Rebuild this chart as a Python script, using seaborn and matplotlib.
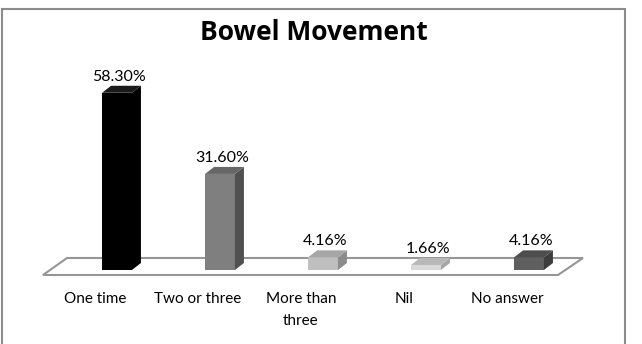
import matplotlib
matplotlib.use("Agg")
import matplotlib.pyplot as plt
import seaborn as sns
from matplotlib.patches import Polygon, Rectangle
from matplotlib.transforms import IdentityTransform, ScaledTranslation

categories = ["One time", "Two or three", "More than\nthree", "Nil", "No answer"]
values = [58.30, 31.60, 4.16, 1.66, 4.16]
value_labels = ["58.30%", "31.60%", "4.16%", "1.66%", "4.16%"]
title = "Bowel Movement"

front_colors = ["#000000", "#7f7f7f", "#bfbfbf", "#d9d9d9", "#5f5f5f"]
side_colors = ["#000000", "#505050", "#8c8c8c", "#a6a6a6", "#3c3c3c"]
top_colors = ["#1a1a1a", "#666666", "#a6a6a6", "#b8b8b8", "#4d4d4d"]

sns.set_theme(style="white")
plt.rcParams["font.family"] = ["Lato", "DejaVu Sans"]

W, H, DPI = 642, 344, 100
fig = plt.figure(figsize=(W / DPI, H / DPI), dpi=DPI)
fig.patch.set_facecolor("white")

# axes: category i centred at px 117 + 103 i, baseline at px 270 from top
ax = fig.add_axes([65.5 / W, 74 / H, 515 / W, 212.8 / H])
ax.set_facecolor("none")
ax.set_zorder(1)

# floor (drawn in pixel space behind bars)
floor_pts = [(43, H - 275), (558, H - 275), (583, H - 258), (67, H - 258)]
fig.patches.append(Polygon(floor_pts, closed=True, facecolor="white",
                           edgecolor="#969696", linewidth=1.5,
                           transform=IdentityTransform(), zorder=-1))

sns.barplot(x=categories, y=values, hue=categories, palette=front_colors,
            saturation=1, width=0.29, legend=False, ax=ax, zorder=3,
            edgecolor="none")
ax.set_xlim(-0.5, 4.5)
ax.set_ylim(0, 70)
for s in ax.spines.values():
    s.set_visible(False)
ax.set_yticks([])
ax.set_xlabel("")
ax.set_ylabel("")
ax.tick_params(axis="x", length=0, pad=16, labelsize=11, colors="#000000")
ax.set_xticks(range(len(categories)))
ax.set_xticklabels(categories, linespacing=1.75)
for lab in ax.get_xticklabels():
    lab.set_transform(lab.get_transform() + ScaledTranslation(-22 / DPI, 0, fig.dpi_scale_trans))

fig.canvas.draw()
dx, dy = 9, 7
bars = sorted(ax.patches, key=lambda p: p.get_x())
for i, p in enumerate(bars):
    x0, x1 = p.get_x(), p.get_x() + p.get_width()
    h = p.get_height()
    (X0, Y0), (X1, Y1) = ax.transData.transform([(x0, 0), (x1, h)])
    side = Polygon([(X1, Y0), (X1 + dx, Y0 + dy), (X1 + dx, Y1 + dy), (X1, Y1)],
                   closed=True, facecolor=side_colors[i], edgecolor="none",
                   transform=IdentityTransform(), zorder=2)
    top = Polygon([(X0, Y1), (X1, Y1), (X1 + dx, Y1 + dy), (X0 + dx, Y1 + dy)],
                  closed=True, facecolor=top_colors[i], edgecolor="none",
                  transform=IdentityTransform(), zorder=2)
    fig.patches.append(side)
    fig.patches.append(top)
    ax.annotate(value_labels[i], xy=(p.get_x() + p.get_width() / 2, h),
                xytext=(1.5, 11.5), textcoords="offset points",
                ha="center", va="center", fontsize=11.5, color="#000000",
                annotation_clip=False)

fig.text(314 / W, 1 - 32 / H, title, ha="center", va="center",
         fontsize=19, fontweight="bold", color="#000000",
         family=["Open Sans", "DejaVu Sans"])

# chart border
fig.patches.append(Rectangle((2, -5), 623, H - 4, facecolor="none",
                             edgecolor="#8c8c8c", linewidth=1.5,
                             transform=IdentityTransform(), zorder=10))

fig.savefig("out.png", dpi=DPI)
